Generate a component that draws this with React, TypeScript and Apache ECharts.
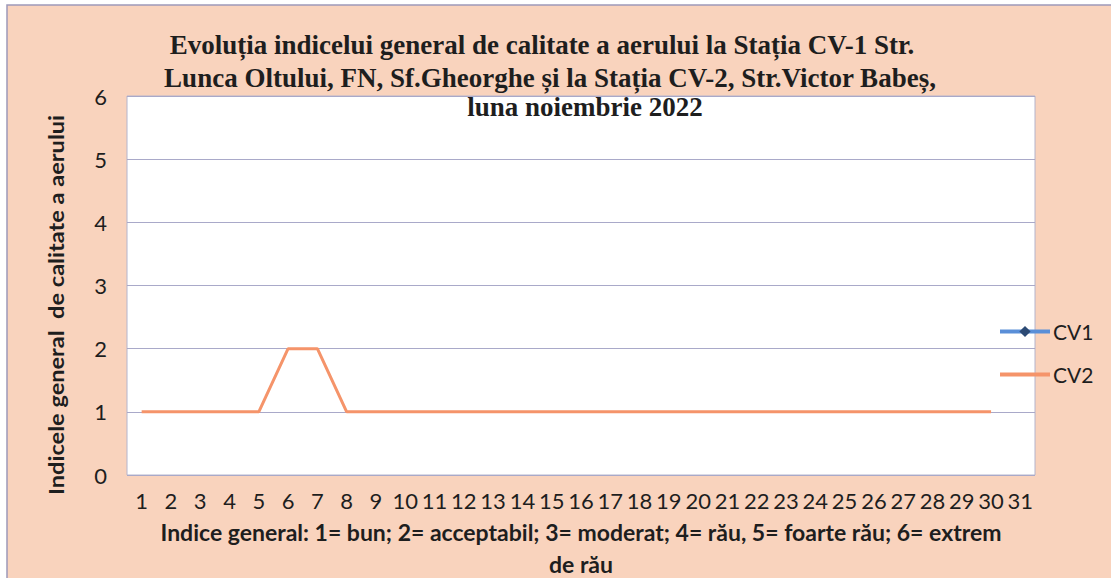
import React, { useEffect, useRef } from "react";
import * as echarts from "echarts";

const days: string[] = [
  "1", "2", "3", "4", "5", "6", "7", "8", "9", "10", "11", "12", "13", "14", "15", "16",
  "17", "18", "19", "20", "21", "22", "23", "24", "25", "26", "27", "28", "29", "30", "31",
];

const cv1: (number | null)[] = [
  null, null, null, null, null, null, null, null, null, null, null, null, null, null, null, null,
  null, null, null, null, null, null, null, null, null, null, null, null, null, null, null,
];

const cv2: (number | null)[] = [
  1, 1, 1, 1, 1, 2, 2, 1, 1, 1, 1, 1, 1, 1, 1, 1,
  1, 1, 1, 1, 1, 1, 1, 1, 1, 1, 1, 1, 1, 1, null,
];

const titleLines: string[] = [
  "Evoluția indicelui general de calitate a aerului la Stația CV-1 Str.",
  "Lunca Oltului, FN, Sf.Gheorghe și la Stația CV-2, Str.Victor Babeș,",
  "luna noiembrie 2022",
];

const xName = "Indice general: 1= bun; 2= acceptabil; 3= moderat; 4= rău, 5= foarte rău; 6= extrem\nde rău";
const yName = "Indicele general  de calitate a aerului";

const SANS = "Lato, 'Open Sans', sans-serif";
const SERIF = "'Liberation Serif', 'Times New Roman', serif";

export default function App() {
  const ref = useRef<HTMLDivElement>(null);
  useEffect(() => {
    if (!ref.current) return;
    const chart = echarts.init(ref.current, undefined, { renderer: "svg" });
    const titleCenters = [542, 550, 585];
    const titleTops = [29, 62, 91];
    chart.setOption({
      animation: false,
      title: titleLines.map((t, i) => ({
        text: t,
        left: titleCenters[i],
        top: titleTops[i],
        textAlign: "center",
        padding: 0,
        textStyle: {
          fontFamily: SERIF,
          fontWeight: "bold",
          fontSize: 27,
          lineHeight: 31,
          color: "#1e1e1e",
        },
      })),
      graphic: {
        elements: [
          {
            type: "rect",
            z: -100,
            silent: true,
            shape: { x: 7, y: 5, width: 1130, height: 600 },
            style: { fill: "#f9d3bd", stroke: "#9d99b9", lineWidth: 1.5 },
          },
          {
            type: "text",
            x: 56,
            y: 305,
            rotation: Math.PI / 2,
            scaleX: 1.18,
            style: {
              text: yName,
              fontFamily: SANS,
              fontWeight: "bold",
              fontSize: 20,
              fill: "#1e1e1e",
              align: "center",
              verticalAlign: "middle",
            },
          },
        ],
      },
      legend: {
        orient: "vertical",
        left: 998,
        top: 321,
        itemGap: 22,
        itemWidth: 50,
        itemHeight: 14,
        padding: 0,
        lineStyle: { width: 4 },
        textStyle: { fontFamily: SANS, fontSize: 21, color: "#1e1e1e", padding: [0, 0, 0, -2] },
        data: [{ name: "CV1" }, { name: "CV2", itemStyle: { opacity: 0 } }],
      },
      grid: {
        left: 127,
        right: 76,
        top: 96,
        bottom: 103,
        outerBoundsMode: "none",
        show: true,
        backgroundColor: "#ffffff",
        borderColor: "#b4b4cc",
        borderWidth: 1,
      },
      xAxis: {
        type: "category",
        data: days,
        boundaryGap: true,
        axisLine: { show: false },
        axisTick: { show: false },
        axisLabel: {
          interval: 0,
          margin: 14,
          fontFamily: SANS,
          fontSize: 22,
          color: "#1e1e1e",
        },
        name: xName,
        nameLocation: "middle",
        nameGap: 39,
        nameTextStyle: {
          fontFamily: SANS,
          fontWeight: "bold",
          fontSize: 23,
          lineHeight: 32,
          color: "#1e1e1e",
        },
      },
      yAxis: {
        type: "value",
        min: 0,
        max: 6,
        interval: 1,
        axisLine: { show: false },
        axisTick: { show: false },
        splitLine: { lineStyle: { color: "#a9a9c9", width: 1 } },
        axisLabel: {
          margin: 20,
          fontFamily: SANS,
          fontSize: 22,
          color: "#1e1e1e",
        },
      },
      series: [
        {
          name: "CV1",
          type: "line",
          data: cv1,
          symbol: "diamond",
          symbolSize: 13,
          lineStyle: { color: "#5a8fd8", width: 3 },
          itemStyle: { color: "#2c4a74" },
        },
        {
          name: "CV2",
          type: "line",
          data: cv2,
          symbol: "none",
          lineStyle: { color: "#f5946a", width: 3 },
          itemStyle: { color: "#f5946a" },
        },
      ],
    });
    return () => chart.dispose();
  }, []);
  return (
    <div
      ref={ref}
      style={{ position: "fixed", left: 0, top: 0, width: 1111, height: 578, background: "#ffffff" }}
    />
  );
}
